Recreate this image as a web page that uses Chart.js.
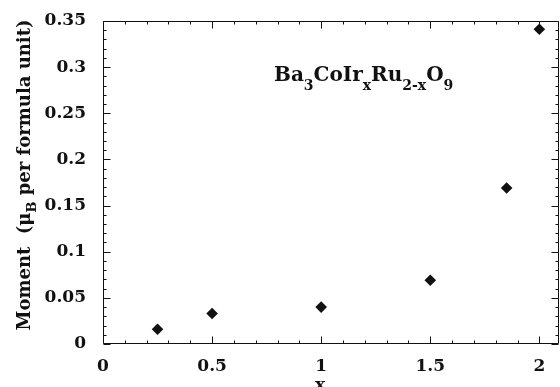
<!DOCTYPE html>
<html>
<head>
<meta charset="utf-8">
<script src="https://cdn.jsdelivr.net/npm/chart.js@4.4.1/dist/chart.umd.min.js"></script>
<style>
  html, body { margin: 0; padding: 0; background: #fff; }
  #wrap { width: 560px; height: 387px; position: relative; }
</style>
</head>
<body>
<div id="wrap"><canvas id="momentChart"></canvas></div>
<script>
// Data
const xValues = [0.25, 0.5, 1, 1.5, 1.85, 2];
const momentValues = [0.016, 0.033, 0.04, 0.069, 0.169, 0.341];

// Axis ticks
const xTicks = [0, 0.5, 1, 1.5, 2];
const yTicks = [0, 0.05, 0.1, 0.15, 0.2, 0.25, 0.3, 0.35];
const xMinorStep = 0.1;
const yMinorStep = 0.01;

// Texts, [text, isSubscript]
const titleParts = [['Ba', 0], ['3', 1], ['CoIr', 0], ['x', 1], ['Ru', 0], ['2-x', 1], ['O', 0], ['9', 1]];
const yLabelParts = [['Moment  (\u03bc', 0], ['B', 1], [' per formula unit)', 0]];
const xLabel = 'x';

const FONT = '"DejaVu Serif", serif';
const INK = '#111';

function richWidth(ctx, parts, size, subSize) {
  let w = 0;
  for (const [t, sub] of parts) {
    ctx.font = `bold ${sub ? subSize : size}px ${FONT}`;
    w += ctx.measureText(t).width;
  }
  return w;
}

function drawRich(ctx, parts, x, y, size, subSize, drop) {
  let cx = x;
  for (const [t, sub] of parts) {
    ctx.font = `bold ${sub ? subSize : size}px ${FONT}`;
    ctx.fillText(t, cx, sub ? y + drop : y);
    cx += ctx.measureText(t).width;
  }
}

// frame with inward ticks on all four sides
const frameTicks = {
  id: 'frameTicks',
  beforeDatasetsDraw(chart) {
    const { ctx, chartArea: a, scales: { x, y } } = chart;
    const L = Math.round(a.left) + 0.5, R = Math.round(a.right) - 0.5;
    const T = Math.round(a.top) + 0.5, B = Math.round(a.bottom) - 0.5;
    ctx.save();
    ctx.strokeStyle = INK;
    ctx.lineWidth = 1;
    ctx.beginPath();
    ctx.rect(L, T, R - L, B - T);
    const nx = Math.round(x.max / xMinorStep);
    for (let i = 0; i <= nx; i++) {
      const px = Math.round(x.getPixelForValue(i * xMinorStep)) + 0.5;
      if (px > R) break;
      const len = i % 5 === 0 ? 7 : 3;
      ctx.moveTo(px, B); ctx.lineTo(px, B - len);
      ctx.moveTo(px, T); ctx.lineTo(px, T + len);
    }
    const ny = Math.round(y.max / yMinorStep);
    for (let i = 0; i <= ny; i++) {
      const py = Math.round(y.getPixelForValue(i * yMinorStep)) + 0.5;
      const len = i % 5 === 0 ? 7 : 3;
      ctx.moveTo(L, py); ctx.lineTo(L + len, py);
      ctx.moveTo(R, py); ctx.lineTo(R - len, py);
    }
    ctx.stroke();
    ctx.restore();
  },
  afterDraw(chart) {
    const { ctx } = chart;
    ctx.save();
    ctx.fillStyle = INK;
    ctx.textBaseline = 'alphabetic';
    ctx.textAlign = 'left';
    // formula inside the plot
    drawRich(ctx, titleParts, 274, 81, 20, 14, 9);
    // x axis title
    ctx.font = `bold 17px ${FONT}`;
    ctx.textAlign = 'center';
    ctx.fillText(xLabel, 320, 390);
    // y axis title, rotated
    ctx.textAlign = 'left';
    ctx.translate(30, 175);
    ctx.rotate(-Math.PI / 2);
    const w = richWidth(ctx, yLabelParts, 18, 13);
    drawRich(ctx, yLabelParts, -w / 2, 0, 18, 13, 6);
    ctx.restore();
  }
};

const ctx = document.getElementById('momentChart').getContext('2d');

const chart = new Chart(ctx, {
  type: 'scatter',
  data: {
    datasets: [{
      data: xValues.map((v, i) => ({ x: v, y: momentValues[i] })),
      pointStyle: 'rectRot',
      pointRadius: 5.8,
      pointHoverRadius: 5.8,
      backgroundColor: INK,
      borderColor: INK,
      borderWidth: 0,
      clip: false
    }]
  },
  options: {
    responsive: true,
    maintainAspectRatio: false,
    animation: false,
    layout: { autoPadding: false, padding: { top: 21, right: 1, left: 0, bottom: 0 } },
    plugins: {
      legend: { display: false },
      tooltip: { enabled: false }
    },
    scales: {
      x: {
        type: 'linear',
        min: 0,
        max: 2.09,
        grid: { display: false },
        border: { display: false },
        afterBuildTicks: s => { s.ticks = xTicks.map(v => ({ value: v })); },
        afterFit: s => { s.height = 43; s.paddingLeft = 0; s.paddingRight = 0; },
        ticks: {
          color: INK,
          padding: 4,
          maxRotation: 0,
          font: { family: FONT, size: 17, weight: 'bold' },
          callback: v => String(v)
        }
      },
      y: {
        min: 0,
        max: 0.35,
        grid: { display: false },
        border: { display: false },
        afterBuildTicks: s => { s.ticks = yTicks.map(v => ({ value: v })); },
        afterFit: s => { s.width = 103; s.paddingTop = 0; s.paddingBottom = 0; },
        ticks: {
          color: INK,
          padding: 9,
          font: { family: FONT, size: 17, weight: 'bold' },
          callback: v => String(v)
        }
      }
    }
  },
  plugins: [frameTicks]
});
</script>
</body>
</html>
